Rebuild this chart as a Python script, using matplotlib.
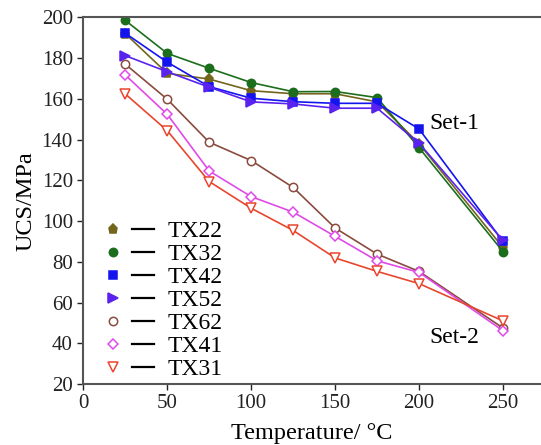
import matplotlib
matplotlib.use('Agg')
import matplotlib.pyplot as plt
from matplotlib.lines import Line2D
from matplotlib.legend_handler import HandlerTuple

plt.rcParams['font.family'] = ['Liberation Serif', 'DejaVu Serif']

temp = [25, 50, 75, 100, 125, 150, 175, 200, 250]

# Set-1
tx22 = [192, 172.5, 169.7, 164, 162.5, 162.5, 158.5, 138, 87]
tx32 = [198.5, 182.3, 175, 168, 163.5, 163.6, 160.6, 136, 85]
tx42 = [192.2, 178, 166, 160.3, 158.6, 157.8, 157.8, 145.2, 90]
tx52 = [181.2, 173.3, 165.7, 158.5, 157.5, 155.4, 155.4, 138.2, 90.5]
# Set-2
tx62 = [177, 159.8, 138.7, 129.7, 116.5, 96.6, 83.8, 75.3, 47.5]
tx41 = [171.7, 152.4, 124.6, 112, 104.4, 92.5, 80.5, 74.8, 46.2]
tx31 = [162.4, 144.4, 119.4, 106.3, 95.4, 81.9, 75.3, 69.3, 51]

names = ['TX22', 'TX32', 'TX42', 'TX52', 'TX62', 'TX41', 'TX31']
series = [tx22, tx32, tx42, tx52, tx62, tx41, tx31]
colors = ['#74651c', '#1c6e1c', '#1414ee', '#5a22ee', '#8a4b3e', '#e04ae8', '#e8462e']
markers = ['p', 'o', 's', '>', 'o', 'D', 'v']
filled = [True, True, True, True, False, False, False]
msizes = [6.5, 6, 5.5, 6.5, 6, 5.5, 7]

fig = plt.figure(figsize=(5.41, 4.45), dpi=100)
ax = fig.add_axes([0.154, 0.137, 0.844, 0.824])

handles = []
for y, name, c, m, f, ms in zip(series, names, colors, markers, filled, msizes):
    face = c if f else 'white'
    ax.plot(temp, y, color=c, lw=1.2, marker=m, ms=ms, mfc=face, mec=c, mew=1.1)
    mk = Line2D([], [], ls='none', marker=m, ms=ms, mfc=face, mec=c, mew=1.1)
    dash = Line2D([], [], color='black', lw=1.6)
    handles.append((mk, dash))

ax.legend(handles, names, handler_map={tuple: HandlerTuple(ndivide=None, pad=0.34)},
          loc='lower left', bbox_to_anchor=(0.0, -0.04), frameon=False,
          fontsize=17, handlelength=2.2, handletextpad=0.55, labelspacing=0.06,
          borderpad=0.4, borderaxespad=0.4)

ax.text(206, 148, 'Set-1', fontsize=17, va='center', ha='left')
ax.text(206, 43, 'Set-2', fontsize=17, va='center', ha='left')

ax.set_xlim(0, 272)
ax.set_ylim(20, 200)
ax.set_xticks([0, 50, 100, 150, 200, 250])
ax.set_yticks(range(20, 201, 20))
ax.tick_params(direction='out', length=4, width=1, labelsize=15, colors='#222222')
ax.spines['right'].set_visible(False)
for s in ['left', 'bottom', 'top']:
    ax.spines[s].set_color('#555555')
    ax.spines[s].set_linewidth(1.5)

ax.set_xlabel('Temperature/ °C', fontsize=17.5, labelpad=7)
ax.set_ylabel('UCS/MPa', fontsize=17.5, labelpad=4)

fig.savefig('out.png', dpi=100)
